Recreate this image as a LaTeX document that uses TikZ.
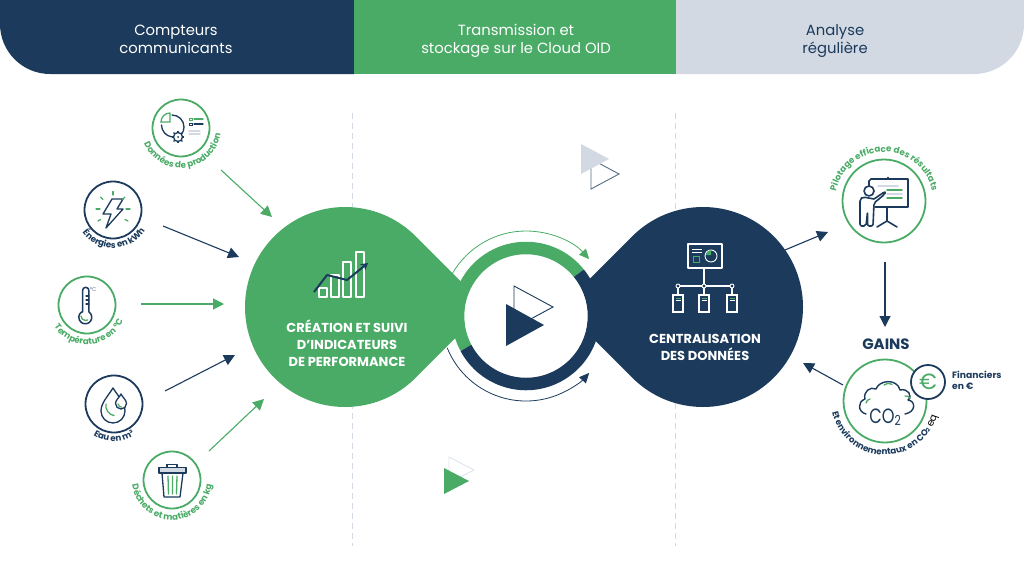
\documentclass[tikz,border=0pt]{standalone}
\usepackage{fontspec}
\setmainfont{Poppins}
\usetikzlibrary{arrows.meta,calc,decorations.text}
\definecolor{oidgreen}{HTML}{4AAB66}
\definecolor{oiddark}{HTML}{1B3A5C}
\definecolor{oidgrey}{HTML}{D2D9E2}
\tikzset{
  arrowgreen/.style={draw=oidgreen,line width=1.1pt,-{Triangle[length=11pt,width=11pt]}},
  arrowdark/.style={draw=oiddark,line width=1.1pt,-{Triangle[length=11pt,width=11pt]}},
  thinarcgreen/.style={draw=oidgreen,line width=0.8pt,-{Triangle[length=10pt,width=9pt]}},
  thinarcdark/.style={draw=oiddark,line width=0.8pt,-{Triangle[length=10pt,width=9pt]}},
  ringgreen/.style={circle,draw=oidgreen,line width=1.8pt,fill=white,inner sep=0pt,minimum size=57pt},
  ringdark/.style={circle,draw=oiddark,line width=1.8pt,fill=white,inner sep=0pt,minimum size=57pt},
  ringbig/.style={circle,draw=oidgreen,line width=1.8pt,fill=white,inner sep=0pt,minimum size=83pt},
  headtxt/.style={align=center,font=\fontsize{14.8}{18.5}\selectfont},
  maintxt/.style={align=center,text=white,font=\fontsize{13}{17}\selectfont\bfseries},
  ic/.style={draw=oiddark,line width=1.3pt,line join=round,line cap=round},
  icg/.style={draw=oidgreen,line width=1.3pt,line cap=round},
  icl/.style={draw=oidgrey,line width=1.3pt,line cap=round},
  icw/.style={draw=white,line width=1.3pt,line join=round},
}
% centre x, centre y (px), radius, middle angle, colour, text
\newcommand{\lowtext}[6]{\path[decorate,decoration={text along path,text align=center,
   text={|\fontsize{8.7}{9}\selectfont\bfseries\color{#5}|#6}}]
   ($(#1pt,-#2pt)+({#4-130}:#3pt)$) arc[start angle={#4-130},end angle={#4+130},radius=#3pt];}
\newcommand{\hightext}[6]{\path[decorate,decoration={text along path,text align=center,
   text={|\fontsize{8.7}{9}\selectfont\bfseries\color{#5}|#6}}]
   ($(#1pt,-#2pt)+({#4+130}:#3pt)$) arc[start angle={#4+130},end angle={#4-130},radius=#3pt];}
\begin{document}
\begin{tikzpicture}[x=1pt,y=-1pt]
\useasboundingbox (0,0) rectangle (1024,586);
% header
\fill[oiddark] (0,0) -- (354,0) -- (354,74) -- (50,74) arc[start angle=270,end angle=180,radius=50pt] -- cycle;
\fill[oidgreen] (354,0) rectangle (676,74);
\fill[oidgrey] (676,0) -- (1024,0) -- (1024,24) arc[start angle=0,end angle=-90,radius=50pt] -- (676,74) -- cycle;
\node[headtxt,text=white] (h1) at (176,39.5) {Compteurs\\communicants};
\node[headtxt,text=white] (h2) at (516,41) {Transmission et\\stockage sur le Cloud OID};
\node[headtxt,text=oiddark] (h3) at (835,41) {Analyse\\régulière};
% dashed separators
\coordinate (s1a) at (352,113); \coordinate (s1b) at (352,546);
\coordinate (s2a) at (675,113); \coordinate (s2b) at (675,546);
\draw[oidgrey,line width=0.9pt,dash pattern=on 6pt off 4pt] (s1a) -- (s1b);
\draw[oidgrey,line width=0.9pt,dash pattern=on 6pt off 4pt] (s2a) -- (s2b);
% teardrops
\coordinate (gc) at (345,307); \coordinate (gt) at (486.4,307);
\coordinate (dc) at (703,307); \coordinate (dt) at (561.6,307);
\coordinate (rc) at (526,316);
\fill[oidgreen] ($(gc)+(45:100pt)$) arc[start angle=45,end angle=315,radius=100pt] -- (gt) -- cycle;
\fill[oiddark] ($(dc)+(135:100pt)$) arc[start angle=135,end angle=-135,radius=100pt] -- (dt) -- cycle;
% central ring
\fill[white] (rc) circle[radius=62pt];
\draw[oidgreen,line width=12.5pt] ($(rc)+(39:68pt)$) arc[start angle=39,end angle=208,radius=68pt];
\draw[oiddark,line width=12.5pt] ($(rc)+(208:68pt)$) arc[start angle=208,end angle=399,radius=68pt];
\draw[thinarcgreen] ($(rc)+(150:85pt)$) arc[start angle=150,end angle=42,radius=85pt];
\draw[thinarcdark] ($(rc)+(202:85pt)$) arc[start angle=202,end angle=318,radius=85pt];
% play triangles
\draw[oiddark,line width=0.9pt] (514,286) -- (553,307) -- (514,328) -- cycle;
\fill[oiddark] (506,304) -- (544,325) -- (506,346) -- cycle;
\draw[oiddark!75,line width=0.9pt] (591,159) -- (619,174) -- (591,189) -- cycle;
\fill[oidgrey] (581,144) -- (609,159) -- (581,174) -- cycle;
\draw[oidgrey!70,line width=0.9pt] (449,457) -- (474,470) -- (449,483) -- cycle;
\fill[oidgreen] (444,468) -- (469,481) -- (444,494) -- cycle;
% main texts
\node[maintxt] (t1) at (347,343) {CRÉATION ET SUIVI\\D'INDICATEURS\\DE PERFORMANCE};
\node[maintxt] (t2) at (705,347) {CENTRALISATION\\DES DONNÉES};
% chart icon
\draw[icw] (319,288) rectangle (327,297);
\draw[icw] (331,275) rectangle (339,297);
\draw[icw] (343,262) rectangle (351,297);
\draw[icw] (356,252) rectangle (364,297);
\draw[oiddark,line width=2pt,line join=round,-{Stealth[length=7pt,width=8pt]}] (314,292) -- (327,275) -- (347,280) -- (368,263);
% network icon
\draw[icw,fill=oiddark] (688,244) rectangle (722,268);
\draw[white,line width=1pt] (692,249) -- (702,249) (692,252) -- (702,252);
\draw[oidgreen,line width=1pt] (693,256) rectangle (699,262);
\draw[white,line width=0.9pt] (711,256) circle[radius=6pt];
\fill[oidgreen] (711,255) -- (711,250) arc[start angle=90,end angle=180,radius=5pt] -- cycle;
\draw[white,line width=1.2pt] (704,268) -- (704,286) (678,286) -- (732,286) (678,286) -- (678,295) (704,286) -- (704,295) (732,286) -- (732,295);
\foreach \x in {678,704,732}{
  \draw[white,line width=0.9pt,fill=oiddark] (\x,286) circle[radius=2pt];
  \draw[white,line width=1.1pt] ({\x-5},295) rectangle ({\x+5},312);
  \draw[oidgreen,line width=0.9pt] ({\x-2.5},298) -- ({\x+2.5},298);
  \draw[white,line width=0.9pt] ({\x-2.5},300.5) -- ({\x+2.5},300.5);
}
% input circles
\node[ringgreen] (data) at (181,128) {};
\node[ringdark] (ener) at (113,210) {};
\node[ringgreen] (temp) at (87,305) {};
\node[ringdark] (eau) at (114,404) {};
\node[ringgreen] (dech) at (172,480) {};
\lowtext{181}{128}{40}{277}{oidgreen}{Données de production}
\lowtext{113}{210}{38}{272}{oiddark}{Énergies en kWh}
\lowtext{87}{305}{39.5}{275}{oidgreen}{Température en °C}
\lowtext{114}{404}{37.5}{270}{oiddark}{Eau en m³}
\lowtext{172}{480}{40}{270}{oidgreen}{Déchets et matières en kg}
% data icon
\draw[ic] (172,115) arc[start angle=90,end angle=-35,radius=12pt];
\draw[ic] (161.5,125) arc[start angle=180,end angle=262,radius=12pt];
\draw[icg] (170,113.5) -- (170,122) -- (161,122) arc[start angle=180,end angle=90,radius=9pt];
\draw[ic,fill=white] (178,137) circle[radius=4.5pt];
\foreach \a in {0,45,...,315}{\draw[oiddark,line width=1.4pt] ($(178pt,-137pt)+(\a:4.5pt)$) -- ($(178pt,-137pt)+(\a:6.3pt)$);}
\fill[oiddark] (178,137) circle[radius=1pt];
\draw[oidgreen,line width=0.7pt] (189,118) rectangle (192,120.5);
\draw[oiddark,line width=0.7pt] (189,123) rectangle (192,125.5);
\draw[icg] (194,119) -- (203,119);
\draw[ic] (194,124) -- (203,124);
\draw[icl] (189,131) -- (200,131) (189,134) -- (200,134);
% bolt icon
\draw[ic] (112,199) -- (123,199) -- (117,209) -- (123,209) -- (106,228) -- (111,214) -- (103,214) -- cycle;
\foreach \a/\b/\c/\d in {113/191.5/113/195,100.5/197/103/199.5,125/197/122.5/199.5,96/209/100/209,126/209/130/209,98/221/100.5/219.5,125/219.5/128/221}{\draw[icg] (\a,\b) -- (\c,\d);}
% thermometer icon
\draw[ic,line width=1.5pt] (82.5,312) -- (82.5,290.5) arc[start angle=180,end angle=0,radius=3.2pt] -- (89,312) arc[start angle=55,end angle=-235,radius=6.5pt];
\draw[ic] (86,296) -- (89,296) (86,300) -- (89,300) (86,304) -- (89,304);
\draw[icg] (81,316) arc[start angle=180,end angle=300,radius=4.5pt];
\node[text=oiddark!70,font=\fontsize{5.5}{6}\selectfont] (deg) at (93,289.5) {°C};
% drop icon
\draw[ic] (113,388) .. controls (108,396) and (101,403) .. (101,411) arc[start angle=180,end angle=360,radius=12pt] .. controls (125,403) and (118,396) .. (113,388);
\draw[ic,fill=white] (121,394) .. controls (119,398) and (115.5,400) .. (115.5,403.5) arc[start angle=180,end angle=360,radius=5.5pt] .. controls (126.5,400) and (123,398) .. (121,394);
\draw[icg] (106,404) arc[start angle=170,end angle=260,radius=10pt];
\draw[icg] (118,404) arc[start angle=180,end angle=280,radius=3pt];
% bin icon
\draw[ic] (167,467) -- (167,464.5) -- (177,464.5) -- (177,467);
\draw[ic,fill=oidgrey] (159,467.5) rectangle (186,473);
\draw[ic] (162,473) -- (164,497) -- (180,497) -- (183,473);
\draw[icg] (168,476) -- (168.5,494) (172.5,476) -- (172.5,494) (177,476) -- (176.5,494);
% arrows in
\coordinate (a1s) at (221,170); \coordinate (a1e) at (272,217);
\coordinate (a2s) at (163,226); \coordinate (a2e) at (239,257);
\coordinate (a3s) at (141,304); \coordinate (a3e) at (224,304);
\coordinate (a4s) at (165,391); \coordinate (a4e) at (235,355);
\coordinate (a5s) at (209,451); \coordinate (a5e) at (264,399);
\draw[arrowgreen] (a1s) -- (a1e);
\draw[arrowdark] (a2s) -- (a2e);
\draw[arrowgreen] (a3s) -- (a3e);
\draw[arrowdark] (a4s) -- (a4e);
\draw[arrowgreen] (a5s) -- (a5e);
% right side
\node[ringbig] (pil) at (884,201) {};
\node[ringbig] (co2) at (885,401) {};
\hightext{884}{201}{49}{90}{oidgreen}{Pilotage efficace des résultats}
\lowtext{885}{401}{54}{268}{oiddark}{Et environnementaux en CO|\fontsize{5.5}{6}\selectfont\bfseries\color{oiddark}|2|| eq}
\coordinate (b1s) at (785,250); \coordinate (b1e) at (828,232);
\coordinate (b2s) at (885,262); \coordinate (b2e) at (885,327);
\coordinate (b3s) at (843,385); \coordinate (b3e) at (803,363);
\draw[arrowdark] (b1s) -- (b1e);
\draw[arrowdark] (b2s) -- (b2e);
\draw[arrowdark] (b3s) -- (b3e);
\node[font=\fontsize{15}{17}\selectfont\bfseries,text=oiddark] (gains) at (886,344) {GAINS};
\node[circle,draw=oiddark,line width=1.8pt,fill=white,minimum size=34pt,inner sep=0pt,text=oidgreen,font=\fontsize{22}{23}\selectfont] (euro) at (928,382) {€};
\node[anchor=west,align=left,text=oiddark,inner sep=0pt,font=\fontsize{9.2}{11.5}\selectfont\bfseries] (fin) at (952,380.5) {Financiers\\en €};
% presenter icon
\draw[ic,line width=1.6pt] (869,187) -- (869,181) -- (871,179) -- (908,179) -- (908,207) -- (875,207);
\draw[ic,line width=1.6pt] (888,177.5) -- (888,179);
\draw[ic,line width=1.6pt,fill=white] (869,191) circle[radius=5pt];
\draw[ic,line width=1.6pt,rounded corners=2pt] (874,199) -- (885,191.5) -- (885,194) -- (874,203) -- (873,226) -- (867.5,226) -- (867.5,212) -- (866,226) -- (860,226) -- (860,199) -- (863,197) -- (874,199);
\draw[ic,line width=1.6pt] (887,207) -- (887,221) -- (877,227) (887,221) -- (897,227);
\draw[icl] (878,186) -- (898,186) (887,194) -- (902,194);
\draw[icg,line width=1.5pt] (887,190) -- (902,190) (887,198) -- (902,198);
% co2 icon
\draw[ic,line width=1.4pt] (866,414) .. controls (858,412) and (857,402) .. (865,399) .. controls (863,392) and (870,386) .. (876,389) .. controls (879,380) and (897,378) .. (900,390) .. controls (908,388) and (913,396) .. (908,400) .. controls (916,401) and (916,412) .. (905,414);
\draw[icg] (866,403) arc[start angle=170,end angle=100,radius=5pt];
\draw[icg] (884,385) arc[start angle=130,end angle=60,radius=7pt];
\draw[icg] (905,396) arc[start angle=100,end angle=30,radius=5pt];
\node[text=oiddark,font=\fontsize{18}{19}\selectfont,inner sep=0pt,xscale=.9,yscale=1.15] (co) at (885,417) {CO\raisebox{-1.5pt}{\fontsize{12}{12}\selectfont 2}};
\end{tikzpicture}
\end{document}
